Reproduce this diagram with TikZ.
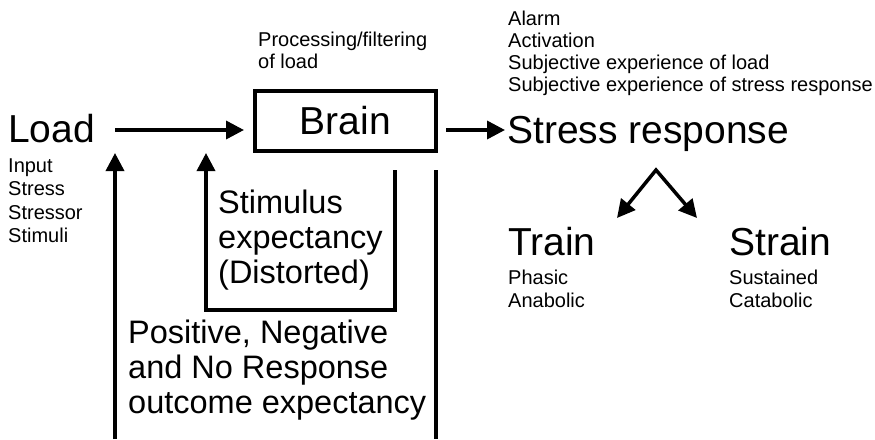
\documentclass[tikz,border=0pt]{standalone}
\usepackage{fontspec}
\setmainfont{Liberation Sans}
\usetikzlibrary{arrows.meta}

\begin{document}
\begin{tikzpicture}[
  x=1pt, y=-1pt,
  >={Triangle[length=18pt,width=18pt]},
  every node/.style={inner sep=0pt, anchor=base west, align=left},
  title/.style={font=\fontsize{39}{44}\selectfont},
  expect/.style={font=\fontsize{32.5}{35}\selectfont},
  note/.style={font=\fontsize{20}{22}\selectfont},
  flow/.style={line width=3.5pt, ->},
  ]
\useasboundingbox (0,0) rectangle (875,439);

% Input side (multi-line nodes sit on their last baseline)
\node[title] (load) at (8,142) {Load};
\node[note, font=\fontsize{20}{23.5}\selectfont] (loadlist) at (8,242.5) {Input\\Stress\\Stressor\\Stimuli};

% Brain
\node[draw, line width=4pt, minimum width=181pt, minimum height=60pt,
  anchor=center, title] (brain) at (345.5,121) {Brain};
\node[note] (proc) at (258,68) {Processing/filtering\\of load};

% Output side
\node[note, font=\fontsize{20}{21.7}\selectfont] (effects) at (508,91)
  {Alarm\\Activation\\Subjective experience of load\\Subjective experience of stress response};
\node[title] (stress) at (507,143) {Stress response};
\node[title] (train) at (508,255) {Train};
\node[note, font=\fontsize{20}{23}\selectfont] (trainlist) at (508,307) {Phasic\\Anabolic};
\node[title] (strain) at (729,255) {Strain};
\node[note, font=\fontsize{20}{23}\selectfont] (strainlist) at (729,307) {Sustained\\Catabolic};

% Expectancies
\node[expect] (stimexp) at (218,283) {Stimulus\\expectancy\\(Distorted)};
\node[expect] (outexp) at (128,413) {Positive, Negative\\and No Response\\outcome expectancy};

% Connector ends
\coordinate (in) at (115,130);
\coordinate (fbout) at (115,439);
\coordinate (fbstim) at (395,170);
\coordinate (fbcorner) at (206,310);
\coordinate (fbline) at (436,170);
\coordinate (split) at (656,170);
\coordinate (totrain) at (617,218);
\coordinate (tostrain) at (697,218);

% Arrows
\draw[flow] (in) -- ([xshift=-9pt]in -| brain.west);
\draw[flow] ([xshift=8pt]in -| brain.east) -- ([xshift=-2pt]in -| stress.west);
\draw[flow] (fbout) -- (fbout |- brain.south);
\draw[flow] (fbstim) |- (fbcorner) -- (fbcorner |- brain.south);
\draw[line width=3.5pt] (fbline) -- (fbline |- fbout);
\draw[flow, <->] (totrain) -- (split) -- (tostrain);

\end{tikzpicture}
\end{document}
